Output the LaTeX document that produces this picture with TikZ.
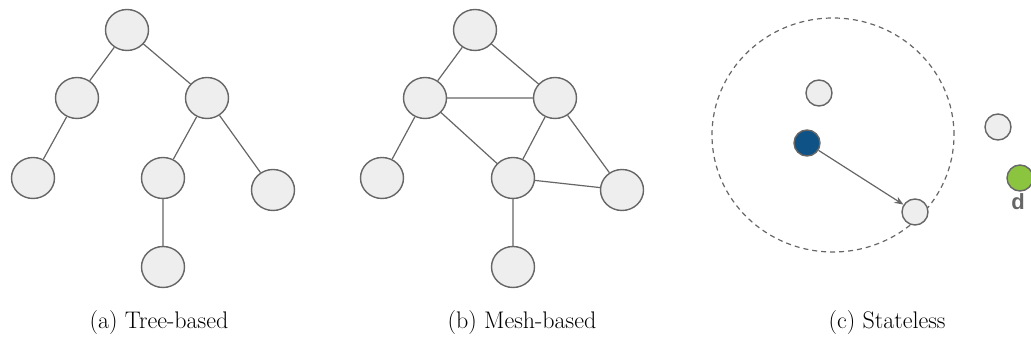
\documentclass[tikz,border=0pt]{standalone}
\usepackage{fontspec}
\newfontfamily\labelfont{Liberation Sans}
\usetikzlibrary{arrows.meta}
\definecolor{nodefill}{HTML}{EEEEEE}
\definecolor{linegray}{HTML}{666666}
\definecolor{srcblue}{HTML}{0E5286}
\definecolor{dstgreen}{HTML}{8BC53F}
\tikzset{
  big/.style={ellipse, draw=linegray, fill=nodefill, line width=1.4pt,
    minimum width=43pt, minimum height=41pt, inner sep=0pt},
  small/.style={circle, draw=linegray, fill=nodefill, line width=1.4pt,
    minimum size=26pt, inner sep=0pt},
  link/.style={draw=linegray, line width=1.2pt},
  caption/.style={font=\fontsize{24}{28}\selectfont, anchor=base}
}
\usetikzlibrary{shapes.geometric}
\begin{document}
\begin{tikzpicture}[x=1pt, y=-1pt]
\useasboundingbox (0,0) rectangle (1031,347);
\clip (0,0) rectangle (1031,347);

% (a) tree
\node[big] (a0) at (127,30) {};
\node[big] (a1) at (77,98) {};
\node[big] (a2) at (207,98) {};
\node[big] (a3) at (33,178) {};
\node[big] (a4) at (163,178) {};
\node[big] (a5) at (273,190) {};
\node[big] (a6) at (163,267) {};
\path[link] (a0) -- (a1) (a0) -- (a2) (a1) -- (a3)
  (a2) -- (a4) (a2) -- (a5) (a4) -- (a6);

% (b) mesh
\node[big] (b0) at (475,30) {};
\node[big] (b1) at (425,98) {};
\node[big] (b2) at (555,98) {};
\node[big] (b3) at (382,178) {};
\node[big] (b4) at (513,178) {};
\node[big] (b5) at (622,190) {};
\node[big] (b6) at (513,267) {};
\path[link] (b0) -- (b1) (b0) -- (b2) (b1) -- (b2) (b1) -- (b3)
  (b1) -- (b4) (b2) -- (b4) (b2) -- (b5) (b4) -- (b5) (b4) -- (b6);

% (c) stateless forwarding
\node[ellipse, draw=linegray, dashed, dash pattern=on 5pt off 4pt, line width=1.2pt,
  minimum width=242pt, minimum height=234pt, inner sep=0pt] (range) at (833,135) {};
\node[small] (n1) at (819,93) {};
\node[small] (n2) at (998,127) {};
\node[small, fill=srcblue] (src) at (807,143) {};
\node[small] (hop) at (915,212) {};
\node[small, fill=dstgreen] (dst) at (1020,178) {};
\node[font=\labelfont\bfseries\fontsize{22}{26}\selectfont, text=linegray,
  inner sep=0pt] (dlabel) at (1018,202) {d};
\draw[draw=linegray, line width=1.2pt, -{Stealth[length=9pt, width=7pt]}] (src) -- (hop);

% captions
\node[caption] (ca) at (159,329) {(a) Tree-based};
\node[caption] (cb) at (522,329) {(b) Mesh-based};
\node[caption] (cc) at (887,329) {(c) Stateless};
\end{tikzpicture}
\end{document}
